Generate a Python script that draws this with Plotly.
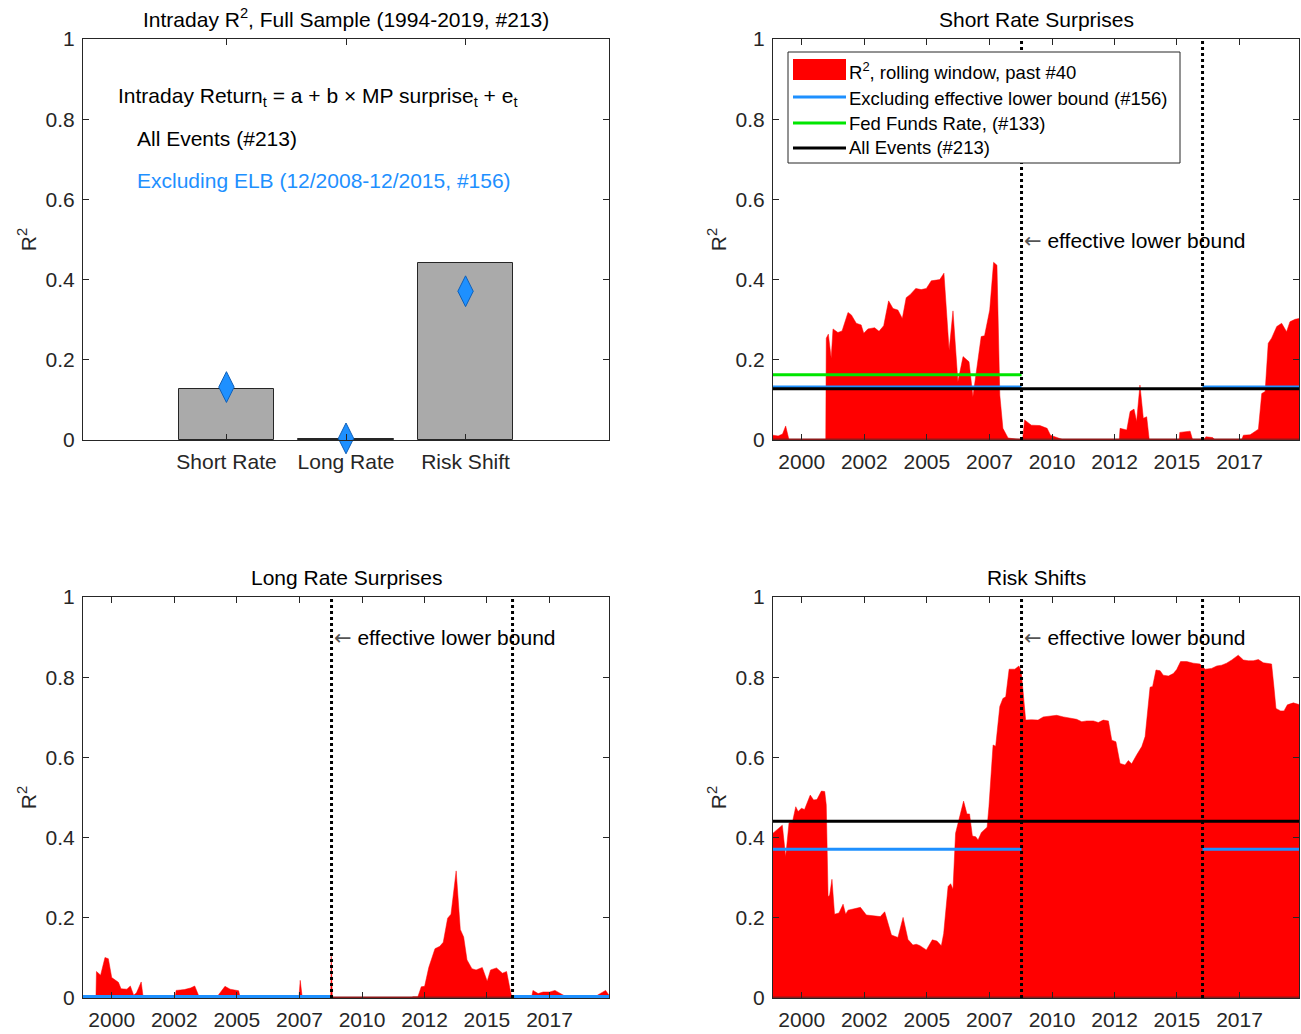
import plotly.graph_objects as go
from plotly.subplots import make_subplots

FONT = "Liberation Sans, Arial, Helvetica, sans-serif"
INK = "#262626"
RED = "#ff0000"
BLUE = "#1e90ff"
GREEN = "#00e600"

# Top-left: full-sample R2 by surprise type
CATEGORIES = ["Short Rate", "Long Rate", "Risk Shift"]
ALL_R2 = [0.128, 0.003, 0.441]
EXCL_R2 = [0.132, 0.004, 0.371]
FFR_R2 = 0.163

# time axis (decimal years)
X_START, X_END = 1999.35, 2019.69
ELB_START, ELB_END = 2008.96, 2015.96
TICK_YEARS = [2000.46, 2002.88, 2005.30, 2007.72, 2010.14, 2012.56, 2014.97, 2017.39]
TICK_TEXT = ["2000", "2002", "2005", "2007", "2010", "2012", "2015", "2017"]

# rolling-window R2, short rate surprises
SR_X = [1999.35, 1999.55, 1999.72, 1999.84, 1999.97, 2001.39, 2001.41, 2001.49, 2001.60, 2001.67,
        2001.86, 2002.02, 2002.25, 2002.38, 2002.57, 2002.76, 2002.86, 2003.02, 2003.28, 2003.45,
        2003.63, 2003.82, 2003.99, 2004.18, 2004.35, 2004.50, 2004.66, 2004.87, 2005.08, 2005.28,
        2005.47, 2005.80, 2005.96, 2006.16, 2006.31, 2006.50, 2006.70, 2006.93, 2007.08, 2007.40,
        2007.53, 2007.73, 2007.88, 2008.01, 2008.12, 2008.24, 2008.44, 2008.89, 2009.00, 2009.08,
        2009.34, 2009.67, 2009.95, 2010.08, 2010.46, 2010.60, 2012.74, 2012.77, 2013.03, 2013.16,
        2013.31, 2013.41, 2013.54, 2013.67, 2013.80, 2013.90, 2015.06, 2015.08, 2015.48, 2015.58,
        2016.00, 2016.09, 2016.35, 2016.45, 2017.47, 2017.54, 2017.80, 2018.12, 2018.25, 2018.38,
        2018.50, 2018.63, 2018.83, 2019.02, 2019.21, 2019.34, 2019.54, 2019.69]
SR_Y = [0.012, 0.010, 0.015, 0.035, 0.000, 0.000, 0.254, 0.264, 0.204, 0.277,
        0.268, 0.272, 0.318, 0.312, 0.291, 0.287, 0.266, 0.277, 0.280, 0.271,
        0.285, 0.347, 0.328, 0.324, 0.303, 0.355, 0.363, 0.378, 0.375, 0.378,
        0.397, 0.400, 0.416, 0.224, 0.322, 0.145, 0.208, 0.195, 0.108, 0.258,
        0.260, 0.324, 0.443, 0.436, 0.112, 0.029, 0.005, 0.000, 0.000, 0.050,
        0.037, 0.036, 0.029, 0.012, 0.004, 0.000, 0.000, 0.029, 0.025, 0.071,
        0.077, 0.046, 0.137, 0.054, 0.058, 0.000, 0.000, 0.019, 0.022, 0.000,
        0.000, 0.008, 0.006, 0.000, 0.000, 0.012, 0.013, 0.027, 0.116, 0.121,
        0.241, 0.254, 0.283, 0.291, 0.270, 0.295, 0.301, 0.303]

# rolling-window R2, long rate surprises
LR_X = [1999.35, 1999.85, 1999.87, 2000.03, 2000.20, 2000.33, 2000.46, 2000.59, 2000.72, 2000.82,
        2001.05, 2001.18, 2001.31, 2001.42, 2001.60, 2001.68, 2002.91, 2002.95, 2003.27, 2003.51,
        2003.67, 2003.86, 2004.52, 2004.58, 2004.84, 2005.04, 2005.37, 2005.43, 2007.70, 2007.75,
        2007.83, 2008.93, 2008.95, 2008.99, 2012.04, 2012.11, 2012.30, 2012.43, 2012.56, 2012.72,
        2012.96, 2013.15, 2013.28, 2013.45, 2013.58, 2013.78, 2013.94, 2014.07, 2014.20, 2014.39,
        2014.55, 2014.79, 2014.98, 2015.11, 2015.34, 2015.57, 2015.73, 2015.86, 2015.94, 2016.10,
        2016.70, 2016.75, 2016.95, 2017.14, 2017.40, 2017.60, 2017.93, 2018.06, 2019.17, 2019.24,
        2019.56, 2019.69]
LR_Y = [0.000, 0.000, 0.066, 0.057, 0.101, 0.098, 0.051, 0.045, 0.039, 0.023,
        0.022, 0.030, 0.007, 0.013, 0.040, 0.000, 0.000, 0.019, 0.021, 0.025,
        0.030, 0.000, 0.000, 0.007, 0.029, 0.022, 0.018, 0.000, 0.000, 0.044,
        0.000, 0.000, 0.104, 0.000, 0.000, 0.003, 0.003, 0.028, 0.029, 0.076,
        0.123, 0.129, 0.139, 0.199, 0.209, 0.317, 0.171, 0.152, 0.095, 0.073,
        0.070, 0.076, 0.042, 0.070, 0.075, 0.062, 0.066, 0.023, 0.000, 0.003,
        0.003, 0.019, 0.011, 0.015, 0.015, 0.019, 0.007, 0.000, 0.000, 0.007,
        0.019, 0.007]

# rolling-window R2, risk shifts
RS_X = [1999.35, 1999.48, 1999.71, 1999.84, 1999.97, 2000.10, 2000.23, 2000.32, 2000.45, 2000.57,
        2000.79, 2000.92, 2001.05, 2001.22, 2001.35, 2001.41, 2001.48, 2001.54, 2001.63, 2001.73,
        2001.90, 2002.06, 2002.16, 2002.25, 2002.44, 2002.73, 2002.96, 2003.22, 2003.50, 2003.67,
        2003.93, 2004.18, 2004.38, 2004.57, 2004.76, 2004.89, 2005.02, 2005.28, 2005.51, 2005.69,
        2005.86, 2005.95, 2006.12, 2006.22, 2006.31, 2006.41, 2006.57, 2006.72, 2006.85, 2006.95,
        2007.06, 2007.19, 2007.28, 2007.41, 2007.63, 2007.70, 2007.86, 2007.96, 2008.12, 2008.24,
        2008.35, 2008.48, 2008.70, 2008.86, 2008.95, 2009.02, 2009.12, 2009.34, 2009.60, 2009.80,
        2010.06, 2010.32, 2010.58, 2010.83, 2011.09, 2011.29, 2011.48, 2011.74, 2011.93, 2012.12,
        2012.32, 2012.45, 2012.61, 2012.77, 2012.96, 2013.09, 2013.22, 2013.41, 2013.61, 2013.74,
        2013.93, 2014.03, 2014.16, 2014.32, 2014.44, 2014.64, 2014.83, 2014.96, 2015.11, 2015.35,
        2015.60, 2015.86, 2016.06, 2016.31, 2016.51, 2016.70, 2016.89, 2017.09, 2017.34, 2017.54,
        2017.73, 2017.92, 2018.12, 2018.31, 2018.63, 2018.72, 2018.80, 2018.98, 2019.11, 2019.24,
        2019.47, 2019.69]
RS_Y = [0.411, 0.419, 0.431, 0.352, 0.437, 0.438, 0.477, 0.465, 0.473, 0.470,
        0.506, 0.494, 0.495, 0.516, 0.515, 0.481, 0.253, 0.256, 0.296, 0.209,
        0.212, 0.234, 0.209, 0.219, 0.222, 0.226, 0.207, 0.205, 0.203, 0.215,
        0.157, 0.151, 0.201, 0.146, 0.132, 0.134, 0.131, 0.120, 0.145, 0.142,
        0.130, 0.161, 0.278, 0.285, 0.271, 0.411, 0.452, 0.491, 0.459, 0.459,
        0.404, 0.402, 0.394, 0.413, 0.426, 0.477, 0.631, 0.628, 0.727, 0.747,
        0.751, 0.820, 0.820, 0.828, 0.814, 0.760, 0.693, 0.694, 0.693, 0.701,
        0.703, 0.705, 0.701, 0.698, 0.695, 0.689, 0.691, 0.691, 0.687, 0.693,
        0.691, 0.643, 0.639, 0.585, 0.581, 0.592, 0.584, 0.606, 0.627, 0.652,
        0.775, 0.777, 0.818, 0.816, 0.805, 0.803, 0.809, 0.819, 0.839, 0.839,
        0.835, 0.833, 0.820, 0.822, 0.828, 0.830, 0.835, 0.843, 0.855, 0.843,
        0.841, 0.841, 0.844, 0.836, 0.833, 0.776, 0.722, 0.716, 0.716, 0.731,
        0.736, 0.732]

LEGEND_LABELS = ["R<sup>2</sup>, rolling window, past #40", "Excluding effective lower bound (#156)",
                 "Fed Funds Rate, (#133)", "All Events (#213)"]

# full window; the page body margin is removed by the post script below
W, H = 1301, 1034


def px(p):
    return p / W


def py(p):
    return 1 - p / H


fig = make_subplots(rows=2, cols=2)

# ---- top-left: bars + diamonds
fig.add_trace(go.Bar(x=CATEGORIES, y=ALL_R2, width=0.8, marker=dict(color="#aaaaaa", line=dict(color=INK, width=1)),
                     showlegend=False), row=1, col=1)
fig.add_trace(go.Scatter(x=CATEGORIES, y=EXCL_R2, mode="markers", showlegend=False, cliponaxis=False,
                         marker=dict(symbol="diamond-tall", size=22, color=BLUE, line=dict(color="#1060b8", width=1))),
              row=1, col=1)


def add_panel(row, col, xs, ys, all_r2, excl_r2, ffr=None, draw_all=True):
    fig.add_trace(go.Scatter(x=xs, y=ys, mode="lines", fill="tozeroy", fillcolor=RED,
                             line=dict(color=RED, width=0.5), showlegend=False), row=row, col=col)
    fig.add_trace(go.Scatter(x=[X_START, X_END], y=[0, 0], mode="lines", line=dict(color="#8b1a1a", width=3),
                             showlegend=False, hoverinfo="skip"), row=row, col=col)
    fig.add_trace(go.Scatter(x=[X_START, ELB_START, None, ELB_END, X_END], y=[excl_r2, excl_r2, None, excl_r2, excl_r2],
                             mode="lines", line=dict(color=BLUE, width=3), connectgaps=False, showlegend=False),
                  row=row, col=col)
    if ffr is not None:
        fig.add_trace(go.Scatter(x=[X_START, ELB_START], y=[ffr, ffr], mode="lines", line=dict(color=GREEN, width=3),
                                 showlegend=False), row=row, col=col)
    if draw_all:
        fig.add_trace(go.Scatter(x=[X_START, X_END], y=[all_r2, all_r2], mode="lines", line=dict(color="black", width=3),
                                 showlegend=False), row=row, col=col)
    for xe in (ELB_START, ELB_END):
        fig.add_trace(go.Scatter(x=[xe, xe], y=[0, 1], mode="lines", line=dict(color="black", width=3, dash="dot"),
                                 showlegend=False, hoverinfo="skip"), row=row, col=col)


add_panel(1, 2, SR_X, SR_Y, ALL_R2[0], EXCL_R2[0], ffr=FFR_R2)
add_panel(2, 1, LR_X, LR_Y, ALL_R2[1], EXCL_R2[1], draw_all=False)
add_panel(2, 2, RS_X, RS_Y, ALL_R2[2], EXCL_R2[2])

# ---- axes (page pixels)
cols_px = [(83, 609), (773, 1299)]
rows_px = [(39, 440), (597, 998)]
axis_common = dict(showline=True, linecolor=INK, linewidth=1, mirror="ticks", ticks="inside", ticklen=6,
                   tickcolor=INK, showgrid=False, zeroline=False, automargin=False,
                   tickfont=dict(family=FONT, size=21, color=INK))
for r, c in [(1, 1), (1, 2), (2, 1), (2, 2)]:
    x0, x1 = cols_px[c - 1]
    y0, y1 = rows_px[r - 1]
    fig.update_xaxes(domain=[px(x0), px(x1)], row=r, col=c, ticklabelstandoff=3, **axis_common)
    fig.update_yaxes(domain=[py(y1), py(y0)], range=[0, 1], row=r, col=c,
                     tickvals=[0, 0.2, 0.4, 0.6, 0.8, 1], ticktext=["0", "0.2", "0.4", "0.6", "0.8", "1"],
                     ticklabelstandoff=3,
                     title=dict(text="R<sup>2</sup>", font=dict(family=FONT, size=21, color=INK), standoff=3),
                     **axis_common)
    if (r, c) == (1, 1):
        fig.update_xaxes(type="category", range=[-1.2, 3.2], row=r, col=c)
    else:
        fig.update_xaxes(range=[X_START, X_END], tickvals=TICK_YEARS, ticktext=TICK_TEXT, row=r, col=c)

# ---- titles and notes
titles = ["Intraday R<sup>2</sup>, Full Sample (1994-2019, #213)", "Short Rate Surprises",
          "Long Rate Surprises", "Risk Shifts"]
for t, (r, c) in zip(titles, [(1, 1), (1, 2), (2, 1), (2, 2)]):
    x0, x1 = cols_px[c - 1]
    y0, _ = rows_px[r - 1]
    fig.add_annotation(text=t, xref="paper", yref="paper", x=px((x0 + x1) / 2), y=py(y0),
                       xanchor="center", yanchor="bottom", yshift=6, showarrow=False,
                       font=dict(family=FONT, size=21, color="black"))

notes = [("Intraday Return<sub>t</sub> = a + b × MP surprise<sub>t</sub> + e<sub>t</sub>", 116, 97, "black"),
         ("All Events (#213)", 135, 139, "black"),
         ("Excluding ELB (12/2008-12/2015, #156)", 135, 180, BLUE)]
for txt, nx, ny, colr in notes:
    fig.add_annotation(text=txt, xref="paper", yref="paper", x=px(nx), y=py(ny), xanchor="left",
                       yanchor="middle", showarrow=False, font=dict(family=FONT, size=21, color=colr))

elb_text = "<span style='font-family:DejaVu Sans;color:#555'>←</span> effective lower bound"
for xr, yr, yv in [("x2", "y2", 0.496), ("x3", "y3", 0.898), ("x4", "y4", 0.898)]:
    fig.add_annotation(text=elb_text, xref=xr, yref=yr, x=ELB_START, y=yv, xanchor="left", yanchor="middle",
                       showarrow=False, font=dict(family=FONT, size=21, color="black"))

# ---- legend box (drawn by hand so the area patch is a full rectangle)
fig.add_shape(type="rect", xref="paper", yref="paper", x0=px(788), x1=px(1180), y0=py(163), y1=py(52),
              line=dict(color=INK, width=1), fillcolor="white", layer="above")
fig.add_shape(type="rect", xref="paper", yref="paper", x0=px(793), x1=px(846), y0=py(80), y1=py(59),
              line=dict(width=0), fillcolor=RED, layer="above")
for colr, ly in [(BLUE, 97), (GREEN, 123), ("black", 148)]:
    fig.add_shape(type="line", xref="paper", yref="paper", x0=px(793), x1=px(846), y0=py(ly), y1=py(ly),
                  line=dict(color=colr, width=3), layer="above")
for txt, ly in zip(LEGEND_LABELS, [71, 98, 123, 148]):
    fig.add_annotation(text=txt, xref="paper", yref="paper", x=px(847), y=py(ly), xanchor="left",
                       yanchor="middle", showarrow=False, font=dict(family=FONT, size=18.5, color="black"))

fig.update_layout(
    width=W, height=H, margin=dict(l=0, r=0, t=0, b=0),
    paper_bgcolor="white", plot_bgcolor="white",
    font=dict(family=FONT, size=20, color=INK),
    bargap=0, showlegend=False,
)

fig.write_html("out.html", config={"displayModeBar": False},
               post_script="document.body.style.margin='0px';document.body.style.overflow='hidden';")
